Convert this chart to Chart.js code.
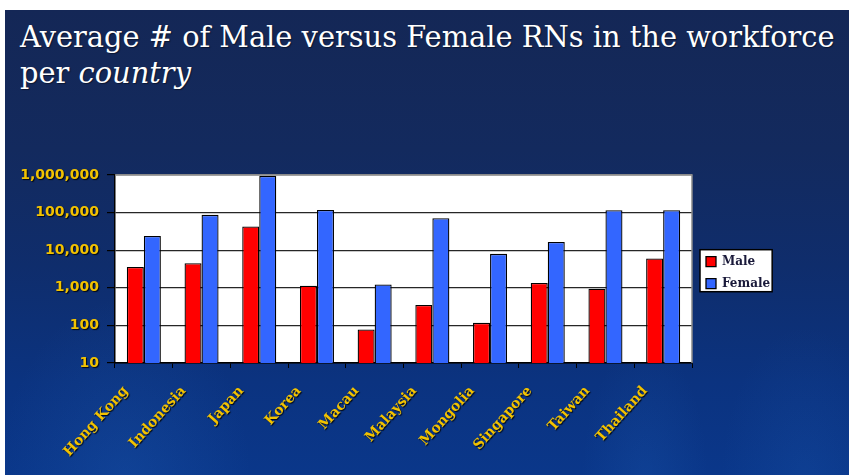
<!DOCTYPE html>
<html>
<head>
<meta charset="utf-8">
<script src="https://cdn.jsdelivr.net/npm/chart.js@4/dist/chart.umd.min.js"></script>
<style>
  html, body { margin:0; padding:0; background:#ffffff; }
  body { width:849px; height:475px; position:relative; overflow:hidden; }
  #panel {
    position:absolute; left:5px; top:10px; right:0; bottom:0;
    background:
      radial-gradient(ellipse 180px 260px at 120px 470px, rgba(40,110,200,0.20), rgba(40,110,200,0) 70%),
      radial-gradient(ellipse 90px 200px at 640px 470px, rgba(40,110,200,0.16), rgba(40,110,200,0) 70%),
      radial-gradient(ellipse 120px 220px at 800px 470px, rgba(40,110,200,0.14), rgba(40,110,200,0) 70%),
      linear-gradient(180deg, #142756 0%, #132a5e 30%, #0f2d6c 55%, #0b3380 80%, #0a378a 100%);
  }
  #title {
    position:absolute; left:20px; top:19px;
    font-family:'DejaVu Serif', serif; color:#ffffff;
    font-size:26px; line-height:36px; white-space:nowrap;
    text-shadow: 1px 1px 1px rgba(0,0,0,0.45);
  }
  #c { position:absolute; left:0; top:0; }
</style>
</head>
<body>
<div id="panel"></div>
<div id="title"><span id="t1">Average # of Male versus Female RNs in the workforce</span><br>per <i>country</i></div>
<canvas id="c" width="849" height="475"></canvas>
<script>
// ---- data ----
const categories = ['Hong Kong','Indonesia','Japan','Korea','Macau','Malaysia','Mongolia','Singapore','Taiwan','Thailand'];
const maleValues = [3600, 4500, 43000, 1130, 78, 350, 117, 1350, 940, 6000];
const femaleValues = [24000, 87000, 950000, 118000, 1230, 71000, 8000, 16500, 116000, 116000];
const yTickValues = [10, 100, 1000, 10000, 100000, 1000000];
const seriesNames = ['Male', 'Female'];

// fit title width
(function(){
  const cv = document.createElement('canvas').getContext('2d');
  cv.font = "26px 'DejaVu Serif'";
  const w = cv.measureText(document.getElementById('t1').textContent).width;
  const fs = 26 * 815 / w;
  document.getElementById('title').style.fontSize = fs.toFixed(2) + 'px';
})();

const PLOT = { left:115, right:692, top:175, bottom:363 };

const bgPlugin = {
  id: 'bgPlugin',
  afterLayout(chart) {
    const lg = chart.legend;
    if (lg) {
      lg.top = 178.7; lg.bottom = 366.7; lg.height = lg.bottom - lg.top;
      lg.left += 4; lg.right += 4;
    }
  },
  beforeDraw(chart) {
    const {ctx, chartArea:a} = chart;
    ctx.save();
    ctx.fillStyle = '#ffffff';
    ctx.fillRect(a.left, a.top, a.right - a.left, a.bottom - a.top);
    const lg = chart.legend;
    if (lg && lg.legendHitBoxes && lg.legendHitBoxes.length) {
      const hb = lg.legendHitBoxes;
      let l = Infinity, t = Infinity, r = -Infinity, b = -Infinity;
      hb.forEach(h => { l = Math.min(l, h.left); t = Math.min(t, h.top); r = Math.max(r, h.left + h.width); b = Math.max(b, h.top + h.height); });
      const x0 = l - 6, y0 = t - 6, x1 = r + 2, y1 = b + 2;
      ctx.fillStyle = '#ffffff';
      ctx.fillRect(x0, y0, x1 - x0, y1 - y0);
      ctx.strokeStyle = '#000000';
      ctx.lineWidth = 1.5;
      ctx.strokeRect(x0, y0, x1 - x0, y1 - y0);
    }
    ctx.restore();
  },
  afterDatasetsDraw(chart) {
    const {ctx, chartArea:a} = chart;
    ctx.save();
    ctx.strokeStyle = '#8a8a8a';
    ctx.lineWidth = 1.5;
    ctx.beginPath();
    ctx.moveTo(a.left, a.top);
    ctx.lineTo(a.right, a.top);
    ctx.lineTo(a.right, a.bottom);
    ctx.stroke();
    ctx.restore();
    ctx.save();
    ctx.shadowColor = 'rgba(0,0,0,0.85)';
    ctx.shadowOffsetX = 1;
    ctx.shadowOffsetY = 1;
    ctx.shadowBlur = 1;
  },
  afterDraw(chart) {
    chart.ctx.restore();
  }
};

const chart = new Chart(document.getElementById('c'), {
  type: 'bar',
  data: {
    labels: categories,
    datasets: [
      { label: seriesNames[0], data: maleValues, backgroundColor: '#ff0000', borderColor: '#000000', borderWidth: 1.3, borderSkipped: 'bottom' },
      { label: seriesNames[1], data: femaleValues, backgroundColor: '#3366ff', borderColor: '#000000', borderWidth: 1.3, borderSkipped: 'bottom' }
    ]
  },
  options: {
    responsive: false,
    animation: false,
    events: [],
    layout: { padding: { left: 0, top: PLOT.top, bottom: 0, right: 60 } },
    datasets: { bar: { barPercentage: 1.0, categoryPercentage: 0.59 } },
    plugins: {
      title: { display: false },
      tooltip: { enabled: false },
      legend: {
        display: true,
        position: 'right',
        align: 'center',
        labels: {
          boxWidth: 10, boxHeight: 10, padding: 10,
          color: '#1a1a3a',
          font: { family: "'DejaVu Serif', serif", size: 12, weight: 'bold' }
        }
      }
    },
    scales: {
      x: {
        afterFit(scale) { scale.height = 475 - PLOT.bottom; },
        grid: { display: true, drawOnChartArea: false, drawTicks: true, tickLength: 5, color: '#000000', tickColor: '#000000', offset: true },
        border: { display: true, color: '#000000', width: 1.5 },
        ticks: {
          z: 1,
          minRotation: 48, maxRotation: 48,
          autoSkip: false,
          padding: 15,
          labelOffset: -18,
          color: '#f2c200',
          font: { family: "'DejaVu Serif', serif", size: 14, weight: 'bold' }
        }
      },
      y: {
        type: 'logarithmic',
        min: 10, max: 1000000,
        afterFit(scale) { scale.width = PLOT.left; },
        afterBuildTicks(scale) { scale.ticks = yTickValues.map(v => ({ value: v })); },
        grid: {
          display: true, drawTicks: true, tickLength: 8,
          color: ctx => (ctx.tick && ctx.tick.value === 1000000) ? '#8a8a8a' : '#262626',
          tickColor: '#000000', lineWidth: 1.2
        },
        border: { display: true, color: '#000000', width: 1.5 },
        ticks: {
          z: 1,
          padding: 8,
          color: '#f2c200',
          font: { family: "'DejaVu Sans', sans-serif", size: 14, weight: 'bold' },
          callback: v => Number(v).toLocaleString('en-US')
        }
      }
    }
  },
  plugins: [bgPlugin]
});

const dr = chart.chartArea.right - PLOT.right;
chart.options.layout.padding.right += dr;
chart.update('none');
</script>
</body>
</html>
